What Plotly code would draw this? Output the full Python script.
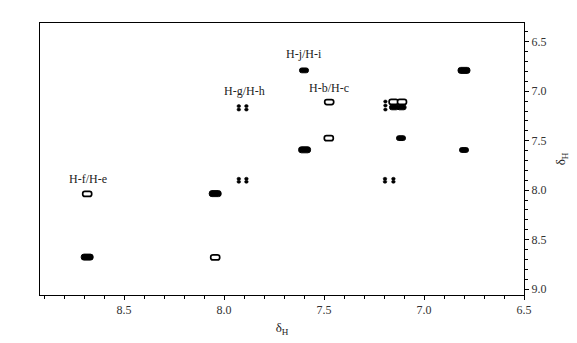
import plotly.graph_objects as go

# ---------------- data ----------------
# chemical shifts of COSY peaks: F2 (horizontal) and F1 (vertical), ppm
peak_f2 = [8.684, 8.684, 8.044, 8.044,
           7.600, 7.597, 6.800, 6.800,
           7.474, 7.476, 7.115,
           7.152, 7.110, 7.150, 7.112,
           7.926, 7.926, 7.888, 7.888,
           7.926, 7.926, 7.888, 7.888,
           7.195, 7.195, 7.153, 7.153,
           7.193, 7.193, 7.193]
peak_f1 = [8.038, 8.677, 8.035, 8.680,
           6.789, 7.592, 6.789, 7.594,
           7.109, 7.474, 7.474,
           7.108, 7.108, 7.163, 7.163,
           7.150, 7.185, 7.150, 7.185,
           7.885, 7.915, 7.885, 7.915,
           7.885, 7.915, 7.885, 7.915,
           7.104, 7.144, 7.185]
# relative contour level of each peak (4 strong ... 1 weak)
peak_level = [2, 4, 4, 2,
              3, 4, 4, 3,
              2, 2, 3,
              2, 2, 3, 3,
              1, 1, 1, 1,
              1, 1, 1, 1,
              1, 1, 1, 1,
              1, 1, 1]

label_text = ["H-j/H-i", "H-g/H-h", "H-b/H-c", "H-f/H-e"]
label_f2 = [7.600, 7.899, 7.476, 8.680]
label_f1 = [6.620, 6.998, 6.964, 7.890]

x_range = [8.92, 6.50]
y_range = [9.06, 6.31]
x_tick_vals = [8.5, 8.0, 7.5, 7.0, 6.5]
y_tick_vals = [6.5, 7.0, 7.5, 8.0, 8.5, 9.0]

# ---------------- layout / style ----------------
W, H = 577, 343
M = dict(l=32, r=61, t=15, b=56, pad=0)
plot_w = W - M["l"] - M["r"]
plot_h = H - M["t"] - M["b"]
ppm_per_px_x = abs(x_range[0] - x_range[1]) / plot_w
ppm_per_px_y = abs(y_range[0] - y_range[1]) / plot_h

STYLE = {
    4: dict(w=12.0, h=6.0, fill="black", lw=1.0, shape="box"),
    3: dict(w=9.0, h=4.8, fill="black", lw=1.0, shape="box"),
    2: dict(w=9.0, h=5.0, fill="white", lw=1.7, shape="box"),
    1: dict(w=3.6, h=3.0, fill="black", lw=0.6, shape="dot"),
}
SERIF = "Liberation Serif, Times New Roman, serif"


def rounded_box(xc, yc, hx, hy, rx, ry):
    x0, x1, y0, y1 = xc - hx, xc + hx, yc - hy, yc + hy
    return (f"M {x0 + rx},{y0} L {x1 - rx},{y0} Q {x1},{y0} {x1},{y0 + ry} "
            f"L {x1},{y1 - ry} Q {x1},{y1} {x1 - rx},{y1} "
            f"L {x0 + rx},{y1} Q {x0},{y1} {x0},{y1 - ry} "
            f"L {x0},{y0 + ry} Q {x0},{y0} {x0 + rx},{y0} Z")


fig = go.Figure()

# invisible anchor trace carrying the peak list (hover)
fig.add_trace(go.Scatter(
    x=peak_f2, y=peak_f1, mode="markers",
    marker=dict(size=8, color="rgba(0,0,0,0)"),
    hovertemplate="F2 %{x:.2f} / F1 %{y:.2f}<extra></extra>",
    showlegend=False,
))

shapes = []
for xv, yv, lv in zip(peak_f2, peak_f1, peak_level):
    st = STYLE[lv]
    hx = st["w"] / 2 * ppm_per_px_x
    hy = st["h"] / 2 * ppm_per_px_y
    if st["shape"] == "box":
        r_px = st["h"] * 0.45
        shapes.append(dict(
            type="path", xref="x", yref="y",
            path=rounded_box(xv, yv, hx, hy, r_px * ppm_per_px_x, r_px * ppm_per_px_y),
            fillcolor=st["fill"], line=dict(color="black", width=st["lw"]),
            layer="above",
        ))
    else:
        shapes.append(dict(
            type="circle", xref="x", yref="y",
            x0=xv - hx, x1=xv + hx, y0=yv - hy, y1=yv + hy,
            fillcolor=st["fill"], line=dict(color="black", width=st["lw"]),
            layer="above",
        ))

annotations = []
for t, xv, yv in zip(label_text, label_f2, label_f1):
    annotations.append(dict(
        x=xv, y=yv, xref="x", yref="y", text=t, showarrow=False,
        font=dict(family=SERIF, size=12, color="#222"),
        xanchor="center", yanchor="middle",
    ))

axis_common = dict(
    showline=True, linecolor="black", linewidth=1, mirror=True,
    ticks="outside", ticklen=4, tickwidth=1, tickcolor="black",
    showgrid=False, zeroline=False,
    tickfont=dict(family=SERIF, size=12, color="#333"),
    minor=dict(dtick=0.1, tick0=6.5, ticks="outside", ticklen=3,
               tickwidth=1, tickcolor="black", showgrid=False),
)

fig.update_layout(
    width=W, height=H, margin=M,
    paper_bgcolor="white", plot_bgcolor="white",
    shapes=shapes, annotations=annotations,
    xaxis=dict(range=x_range, tickmode="array", tickvals=x_tick_vals,
               ticktext=[f"{v:.1f}" for v in x_tick_vals],
               title=dict(text="δ<sub>H</sub>", standoff=6,
                          font=dict(family=SERIF, size=13, color="#222")),
               **axis_common),
    yaxis=dict(range=y_range, side="right", tickmode="array",
               tickvals=y_tick_vals,
               ticktext=[f"{v:.1f}" for v in y_tick_vals],
               title=dict(text="δ<sub>H</sub>", standoff=10,
                          font=dict(family=SERIF, size=13, color="#222")),
               **axis_common),
    showlegend=False,
)

fig.write_html("out.html")
